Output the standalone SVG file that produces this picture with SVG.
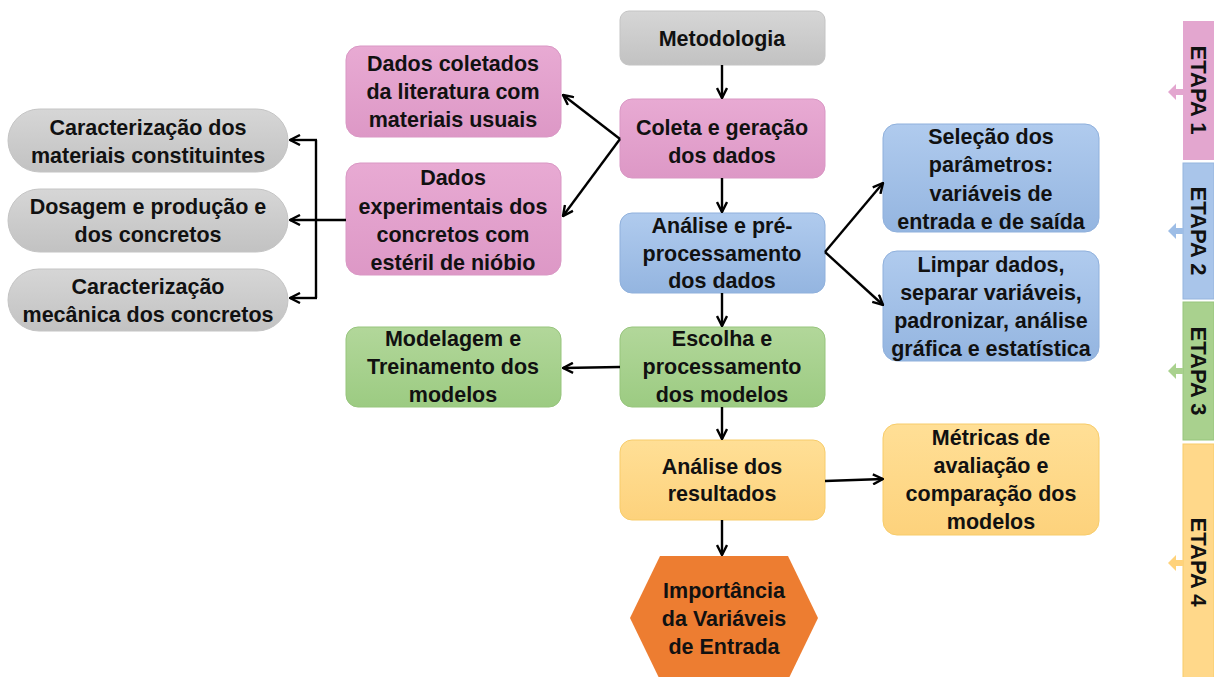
<svg xmlns="http://www.w3.org/2000/svg" width="1214" height="677" viewBox="0 0 1214 677">
<defs>
<linearGradient id="gGray" x1="0" y1="0" x2="0" y2="1"><stop offset="0" stop-color="#d6d6d6"/><stop offset="1" stop-color="#c2c2c2"/></linearGradient>
<linearGradient id="gPink" x1="0" y1="0" x2="0" y2="1"><stop offset="0" stop-color="#e8aad3"/><stop offset="1" stop-color="#dd98c6"/></linearGradient>
<linearGradient id="gBlue" x1="0" y1="0" x2="0" y2="1"><stop offset="0" stop-color="#b0cbee"/><stop offset="1" stop-color="#94b5e0"/></linearGradient>
<linearGradient id="gGreen" x1="0" y1="0" x2="0" y2="1"><stop offset="0" stop-color="#b2d79a"/><stop offset="1" stop-color="#9ccb82"/></linearGradient>
<linearGradient id="gYellow" x1="0" y1="0" x2="0" y2="1"><stop offset="0" stop-color="#ffdf96"/><stop offset="1" stop-color="#fdd27c"/></linearGradient>
<marker id="arr" viewBox="0 0 12 12" refX="11" refY="6" markerWidth="12" markerHeight="12" markerUnits="userSpaceOnUse" orient="auto">
<path d="M1,1 L11,6 L1,11" fill="none" stroke="#000" stroke-width="2.4" stroke-linejoin="miter"/>
</marker>
</defs>
<style>
text{font-family:"Liberation Sans",Arial,sans-serif;font-weight:bold;font-size:21.5px;fill:#111;text-anchor:middle;dominant-baseline:central}
.gray{fill:url(#gGray);stroke:#c4c4c4;stroke-width:1}
.pink{fill:url(#gPink);stroke:#d997c4;stroke-width:1}
.blue{fill:url(#gBlue);stroke:#8fb0dc;stroke-width:1}
.green{fill:url(#gGreen);stroke:#97c57d;stroke-width:1}
.yellow{fill:url(#gYellow);stroke:#f7cc6a;stroke-width:1}
.c{fill:none;stroke:#000;stroke-width:2.4}
.et{font-size:22px}
</style>
<rect width="1214" height="677" fill="#fff"/>

<g id="metodologia"><rect class="gray" x="620" y="11" width="205" height="54" rx="9"/><text x="722" y="39">Metodologia</text></g>
<g id="coleta"><rect class="pink" x="620" y="99" width="205" height="79" rx="12"/><text x="722" y="128">Coleta e geração</text><text x="722" y="156">dos dados</text></g>
<g id="analise-pre"><rect class="blue" x="620" y="213" width="205" height="80" rx="12"/><text x="722" y="226">Análise e pré-</text><text x="722" y="254">processamento</text><text x="722" y="281">dos dados</text></g>
<g id="escolha"><rect class="green" x="620" y="327" width="205" height="80" rx="12"/><text x="722" y="339">Escolha e</text><text x="722" y="367">processamento</text><text x="722" y="395">dos modelos</text></g>
<g id="analise-resultados"><rect class="yellow" x="620" y="440" width="205" height="80" rx="12"/><text x="722" y="467">Análise dos</text><text x="722" y="494">resultados</text></g>
<g id="importancia"><polygon points="660,556 788,556 818,618 788,680 660,680 630,618" fill="#ed7d31"/><text x="724" y="591">Importância</text><text x="724" y="619">da Variáveis</text><text x="724" y="647">de Entrada</text></g>

<g id="dados-coletados"><rect class="pink" x="346" y="46" width="215" height="91" rx="14"/><text x="453" y="64">Dados coletados</text><text x="453" y="92">da literatura com</text><text x="453" y="120">materiais usuais</text></g>
<g id="dados-experimentais"><rect class="pink" x="346" y="163" width="215" height="112" rx="14"/><text x="453" y="178">Dados</text><text x="453" y="207">experimentais dos</text><text x="453" y="235">concretos com</text><text x="453" y="263">estéril de nióbio</text></g>
<g id="modelagem"><rect class="green" x="346" y="327" width="215" height="80" rx="12"/><text x="453" y="339">Modelagem e</text><text x="453" y="367">Treinamento dos</text><text x="453" y="395">modelos</text></g>

<g id="caracterizacao-materiais"><rect class="gray" x="8" y="109" width="280" height="63" rx="31.5"/><text x="148" y="128">Caracterização dos</text><text x="148" y="156">materiais constituintes</text></g>
<g id="dosagem"><rect class="gray" x="8" y="189" width="280" height="63" rx="31.5"/><text x="148" y="207">Dosagem e produção e</text><text x="148" y="235">dos concretos</text></g>
<g id="caracterizacao-mecanica"><rect class="gray" x="8" y="269" width="280" height="62" rx="31"/><text x="148" y="287">Caracterização</text><text x="148" y="315">mecânica dos concretos</text></g>

<g id="selecao"><rect class="blue" x="883" y="124" width="216" height="108" rx="14"/><text x="991" y="137">Seleção dos</text><text x="991" y="165">parâmetros:</text><text x="991" y="194">variáveis de</text><text x="991" y="222">entrada e de saída</text></g>
<g id="limpar"><rect class="blue" x="883" y="251" width="216" height="110" rx="14"/><text x="991" y="265">Limpar dados,</text><text x="991" y="293">separar variáveis,</text><text x="991" y="321">padronizar, análise</text><text x="991" y="349">gráfica e estatística</text></g>
<g id="metricas"><rect class="yellow" x="883" y="424" width="216" height="111" rx="14"/><text x="991" y="438">Métricas de</text><text x="991" y="466">avaliação e</text><text x="991" y="494">comparação dos</text><text x="991" y="522">modelos</text></g>

<g id="etapa1"><rect x="1183" y="21" width="31" height="139" fill="#e3a6cf"/><polygon points="1168,92 1176,84 1176,89 1183,89 1183,95 1176,95 1176,100" fill="#e3a6cf"/><text class="et" transform="translate(1198,90) rotate(90)">ETAPA 1</text></g>
<g id="etapa2"><rect x="1183" y="163" width="31" height="136" fill="#a9c5ea" stroke="#96b5de" stroke-width="1"/><polygon points="1168,231 1176,223 1176,228 1183,228 1183,234 1176,234 1176,239" fill="#9dbde6"/><text class="et" transform="translate(1198,231) rotate(90)">ETAPA 2</text></g>
<g id="etapa3"><rect x="1183" y="302" width="31" height="138" fill="#a9d18e" stroke="#97c57d" stroke-width="1"/><polygon points="1168,371 1176,363 1176,368 1183,368 1183,374 1176,374 1176,379" fill="#a9d18e"/><text class="et" transform="translate(1198,371) rotate(90)">ETAPA 3</text></g>
<g id="etapa4"><rect x="1183" y="444" width="31" height="240" fill="#ffd88a" stroke="#f7cc6a" stroke-width="1"/><polygon points="1168,563 1176,555 1176,560 1183,560 1183,566 1176,566 1176,571" fill="#ffd27a"/><text class="et" transform="translate(1198,562) rotate(90)">ETAPA 4</text></g>

<g id="connectors">
<line class="c" x1="722" y1="65" x2="722" y2="98" marker-end="url(#arr)"/>
<line class="c" x1="722" y1="178" x2="722" y2="212" marker-end="url(#arr)"/>
<line class="c" x1="722" y1="293" x2="722" y2="326" marker-end="url(#arr)"/>
<line class="c" x1="722" y1="407" x2="722" y2="439" marker-end="url(#arr)"/>
<line class="c" x1="722" y1="520" x2="722" y2="555" marker-end="url(#arr)"/>
<line class="c" x1="620" y1="139" x2="563" y2="95" marker-end="url(#arr)"/>
<line class="c" x1="620" y1="139" x2="563" y2="216" marker-end="url(#arr)"/>
<line class="c" x1="825" y1="252" x2="883" y2="183" marker-end="url(#arr)"/>
<line class="c" x1="825" y1="252" x2="883" y2="305" marker-end="url(#arr)"/>
<line class="c" x1="620" y1="367" x2="563" y2="368" marker-end="url(#arr)"/>
<line class="c" x1="825" y1="481" x2="883" y2="479" marker-end="url(#arr)"/>
<line class="c" x1="346" y1="220" x2="290" y2="220" marker-end="url(#arr)"/>
<line class="c" x1="316" y1="140" x2="316" y2="298"/>
<line class="c" x1="317" y1="140" x2="290" y2="140" marker-end="url(#arr)"/>
<line class="c" x1="317" y1="298" x2="290" y2="298" marker-end="url(#arr)"/>
</g>
</svg>
